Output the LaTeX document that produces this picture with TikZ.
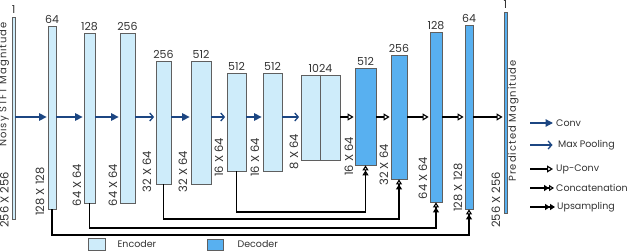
\documentclass[tikz,border=0pt]{standalone}
\usepackage{fontspec}
\setmainfont{Poppins}
\newfontfamily\spacedfont[LetterSpace=10]{Poppins}
\usetikzlibrary{arrows.meta,positioning,calc}
\definecolor{encblue}{RGB}{206,236,250}
\definecolor{decblue}{RGB}{88,176,240}
\definecolor{arrblue}{RGB}{28,70,130}
\definecolor{edgegray}{RGB}{95,95,95}
\definecolor{txtgray}{RGB}{50,50,50}

\begin{document}
\begin{tikzpicture}[x=1pt,y=-1pt,
  enc/.style={rectangle,draw=edgegray,fill=encblue,line width=.8pt,inner sep=0pt},
  dec/.style={rectangle,draw=edgegray,fill=decblue,line width=.8pt,inner sep=0pt},
  num/.style={inner sep=0pt,text=txtgray,font=\fontsize{11}{12}\selectfont},
  dim/.style={inner sep=0pt,rotate=90,text=txtgray,font=\fontsize{11.5}{12}\selectfont},
  title/.style={inner sep=0pt,rotate=90,text=txtgray,font=\spacedfont\fontsize{10}{11}\selectfont},
  lgd/.style={inner sep=0pt,anchor=west,text=txtgray,font=\fontsize{9.5}{10}\selectfont},
  conv/.style={arrblue,line width=1.3pt,-{Triangle[length=7.5pt,width=7.5pt]},shorten >=1pt},
  pool/.style={arrblue,line width=1.3pt,-{Straight Barb[length=3.5pt,width=8pt]},shorten >=1.5pt},
  upconv/.style={black,line width=1.1pt,-{Triangle[open,length=6pt,width=7pt]},shorten >=1pt},
  cat/.style={black,line width=1.1pt,-{Triangle[open,length=5pt,width=6pt]Triangle[open,length=5pt,width=6pt]}},
  ups/.style={black,line width=1.1pt,-{Triangle[length=5pt,width=6pt]Triangle[length=5pt,width=6pt]}}]
  \useasboundingbox (0,0) rectangle (640,251);

  % input / output
  \node[enc,minimum width=2.5pt,minimum height=202pt] (in) at (13.75,118) {};
  \node[dec,minimum width=3pt,minimum height=201pt] (out) at (505.5,112.5) {};

  % encoder
  \node[enc,minimum width=8pt,minimum height=183pt] (e1) at (52,117.5) {};
  \node[enc,minimum width=11pt,minimum height=170pt] (e2) at (89.5,118) {};
  \node[enc,minimum width=15pt,minimum height=170pt] (e3) at (127.5,118) {};
  \node[enc,minimum width=15pt,minimum height=123pt] (e4) at (163.5,122.5) {};
  \node[enc,minimum width=20pt,minimum height=123pt] (e5) at (201,122.5) {};
  \node[enc,minimum width=19pt,minimum height=98pt] (e6) at (236.5,122) {};
  \node[enc,minimum width=19pt,minimum height=98pt] (e7) at (272.5,122) {};
  \node[enc,minimum width=39pt,minimum height=85pt] (mid) at (320.5,117.5) {};
  \draw[edgegray,line width=.8pt] (mid.north) -- (mid.south);

  % decoder
  \node[dec,minimum width=21pt,minimum height=97pt] (d9) at (365.5,116.5) {};
  \node[dec,minimum width=16pt,minimum height=124pt] (d10) at (399,117) {};
  \node[dec,minimum width=12pt,minimum height=170pt] (d11) at (436,117) {};
  \node[dec,minimum width=8pt,minimum height=184pt] (d12) at (469,117) {};

  % channels
  \node[num,above=3pt of in] {1};
  \node[num,above=2pt of e1] {64};
  \node[num,above=2pt of e2] {128};
  \node[num,above=2pt of e3] {256};
  \node[num,above=2pt of e4] {256};
  \node[num,above=2pt of e5] {512};
  \node[num,above=2pt of e6] {512};
  \node[num,above=2pt of e7] {512};
  \node[num,above=2pt of mid] {1024};
  \node[num,above=2pt of d9] {512};
  \node[num,above=2pt of d10] {256};
  \node[num,above=2pt of d11] {128};
  \node[num,above=2pt of d12] {64};
  \node[num,above=3pt of out] {1};

  % sizes
  \node[dim] (tin) at (4.5,200) {256 X 256};
  \node[title] (tname) at (4,84.5) {Noisy STFT Magnitude};
  \node[dim] (t1) at (40,191.5) {128 X 128};
  \node[dim] (t2) at (77,185) {64 X 64};
  \node[dim] (t3) at (113,185) {64 X 64};
  \node[dim] (t4) at (147,171.5) {32 X 64};
  \node[dim] (t5) at (183,171.5) {32 X 64};
  \node[dim] (t6) at (219,157.5) {16 X 64};
  \node[dim] (t7) at (255,157.5) {16 X 64};
  \node[dim] (t8) at (294,151.5) {8 X 64};
  \node[dim] (t9) at (349,156.5) {16 X 64};
  \node[dim] (t10) at (384,165) {32 X 64};
  \node[dim] (t11) at (423,178) {64 X 64};
  \node[dim] (t12) at (458,187.5) {128 X 128};
  \node[dim] (tout) at (496,200) {256 X 256};
  \node[title] (tpred) at (513.5,121) {Predicted Magnitude};

  % main path
  \coordinate (row) at (0,117);
  \draw[conv] (in.east |- row) -- (e1.west |- row);
  \draw[conv] (e1.east |- row) -- (e2.west |- row);
  \draw[conv] (e2.east |- row) -- (e3.west |- row);
  \draw[pool] (e3.east |- row) -- (e4.west |- row);
  \draw[conv] (e4.east |- row) -- (e5.west |- row);
  \draw[pool] (e5.east |- row) -- (e6.west |- row);
  \draw[conv] (e6.east |- row) -- (e7.west |- row);
  \draw[pool] (e7.east |- row) -- (mid.west |- row);
  \draw[upconv] (mid.east |- row) -- (d9.west |- row);
  \draw[upconv] (d9.east |- row) -- (d10.west |- row);
  \draw[upconv] (d10.east |- row) -- (d11.west |- row);
  \draw[upconv] (d11.east |- row) -- (d12.west |- row);
  \draw[upconv] (d12.east |- row) -- (out.west |- row);

  % skip connections
  \coordinate (s1) at (0,235);
  \coordinate (s2) at (0,228);
  \coordinate (s3) at (0,219);
  \coordinate (s4) at (0,212);
  \draw[cat] (e1.south) -- (e1.south |- s1) -| (d12.south);
  \draw[cat] (e2.south) -- (e2.south |- s2) -| (d11.south);
  \draw[cat] (e4.south) -- (e4.south |- s3) -| (d10.south);
  \draw[cat] (e6.south) -- (e6.south |- s4) -| (d9.south);

  % legend
  \node[lgd] (lconv) at (556,123) {Conv};
  \node[lgd] (lpool) at (558,145) {Max Pooling};
  \node[lgd] (lup) at (556,169) {Up-Conv};
  \node[lgd] (lcat) at (556,188) {Concatenation};
  \node[lgd] (lups) at (557,207) {Upsampling};
  \coordinate (a1) at (530,123);
  \coordinate (a2) at (530,145);
  \coordinate (a3) at (530,169);
  \coordinate (a4) at (530,188);
  \coordinate (a5) at (530,207);
  \draw[conv] (a1) -- ([xshift=-2pt]lconv.west);
  \draw[pool] (a2) -- ([xshift=-4pt]lpool.west);
  \draw[upconv] (a3) -- ([xshift=-2pt]lup.west);
  \draw[cat] (a4) -- ([xshift=-2pt]lcat.west);
  \draw[ups] (a5) -- ([xshift=-2pt]lups.west);

  \node[enc,minimum width=17pt,minimum height=12pt] (kenc) at (96.5,244) {};
  \node[lgd,right=12pt of kenc] {Encoder};
  \node[dec,minimum width=16pt,minimum height=11pt] (kdec) at (215,244.5) {};
  \node[lgd,right=14pt of kdec] {Decoder};
\end{tikzpicture}
\end{document}
